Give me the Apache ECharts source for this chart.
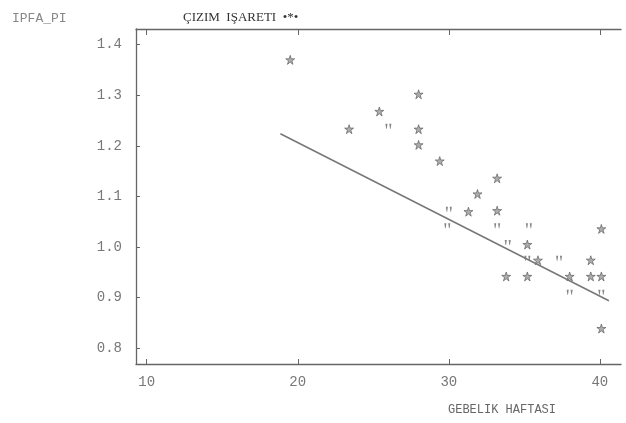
<!DOCTYPE html>
<html>
<head>
<meta charset="utf-8">
<script src="https://cdn.jsdelivr.net/npm/echarts@6/dist/echarts.min.js"></script>
<style>
  html, body { margin: 0; padding: 0; background: #fff; }
  #chart { width: 626px; height: 423px; }
</style>
</head>
<body>
<div id="chart"></div>
<script>
  // tick labels
  var xTicks = [10, 20, 30, 40]
  var yTicks = [0.8, 0.9, 1.0, 1.1, 1.2, 1.3, 1.4]

  // single cases, plotted with *
  var starPoints = [
    [19.5, 1.370], [23.4, 1.233], [25.4, 1.268], [28.0, 1.302], [28.0, 1.233],
    [28.0, 1.202], [29.4, 1.170], [31.3, 1.070], [31.9, 1.105], [33.2, 1.136],
    [33.2, 1.072], [40.1, 1.036], [35.2, 1.005], [35.9, 0.974], [39.4, 0.974],
    [33.8, 0.942], [35.2, 0.942], [38.0, 0.942], [39.4, 0.942], [40.1, 0.942],
    [40.1, 0.839]
  ]
  // overlapping cases, plotted with "
  var quotePoints = [
    [26.0, 1.239], [30.0, 1.075], [29.9, 1.042], [33.2, 1.042], [35.3, 1.042],
    [33.9, 1.009], [35.2, 0.978], [37.3, 0.978], [38.0, 0.911], [40.1, 0.911]
  ]
  // regression line ends
  var fitLine = [[18.85, 1.224], [40.6, 0.894]]

  var starPath = 'path://M5,0 L6.2,3.6 L10,3.6 L6.9,5.8 L8.1,9.5 L5,7.2 L1.9,9.5 L3.1,5.8 L0,3.6 L3.8,3.6 Z'
  var quotePath = 'path://M0,0 L1.4,0 L0.9,3 L0.5,3 Z M2.6,0 L4,0 L3.5,3 L3.1,3 Z'

  var mono = '"Liberation Mono", "DejaVu Sans Mono", monospace'
  var axisColor = '#666'

  var chart = echarts.init(document.getElementById('chart'))
  chart.setOption({
    animation: false,
    backgroundColor: '#fff',
    title: [{
      text: 'IPFA_PI',
      left: 7, top: 7,
      textStyle: {fontFamily: mono, fontSize: 13, fontWeight: 'normal', color: '#888'}
    }, {
      text: 'ÇIZIM  IŞARETI  •*•',
      left: 178, top: 6,
      textStyle: {fontFamily: '"Liberation Serif", serif', fontSize: 13, fontWeight: 'normal', color: '#333'}
    }, {
      text: 'GEBELIK HAFTASI',
      left: 443, top: 399,
      textStyle: {fontFamily: mono, fontSize: 12, fontWeight: 'normal', color: '#666'}
    }],
    grid: {left: 136, top: 29, right: 5, bottom: 59, containLabel: false},
    xAxis: [{
      type: 'value',
      min: 9.29,
      max: 41.4,
      position: 'bottom',
      axisLine: {lineStyle: {color: axisColor, width: 1.3}},
      axisTick: {inside: true, length: 5, customValues: xTicks, lineStyle: {color: axisColor}},
      axisLabel: {
        customValues: xTicks, margin: 11,
        fontFamily: mono, fontSize: 14, color: '#777'
      },
      splitLine: {show: false}
    }, {
      type: 'value',
      min: 9.29,
      max: 41.4,
      position: 'top',
      axisLine: {lineStyle: {color: axisColor, width: 1.3}},
      axisTick: {inside: true, length: 6, customValues: xTicks, lineStyle: {color: axisColor}},
      axisLabel: {show: false},
      splitLine: {show: false}
    }],
    yAxis: {
      type: 'value',
      min: 0.769,
      max: 1.431,
      axisLine: {show: true, lineStyle: {color: axisColor, width: 1.3}},
      axisTick: {show: true, inside: true, length: 4, customValues: yTicks, lineStyle: {color: axisColor}},
      axisLabel: {
        customValues: yTicks, margin: 14,
        fontFamily: mono, fontSize: 14, color: '#777',
        formatter: function (v) { return v.toFixed(1) }
      },
      splitLine: {show: false}
    },
    series: [{
      name: 'fit',
      type: 'line',
      data: fitLine,
      symbol: 'none',
      lineStyle: {color: '#777', width: 1.5},
      silent: true
    }, {
      name: 'star',
      type: 'scatter',
      data: starPoints,
      symbol: starPath,
      symbolSize: 9,
      itemStyle: {color: '#999', borderColor: '#555', borderWidth: 0.8}
    }, {
      name: 'quote',
      type: 'scatter',
      data: quotePoints,
      symbol: quotePath,
      symbolSize: [6, 5],
      itemStyle: {color: '#666'}
    }]
  })
</script>
</body>
</html>
